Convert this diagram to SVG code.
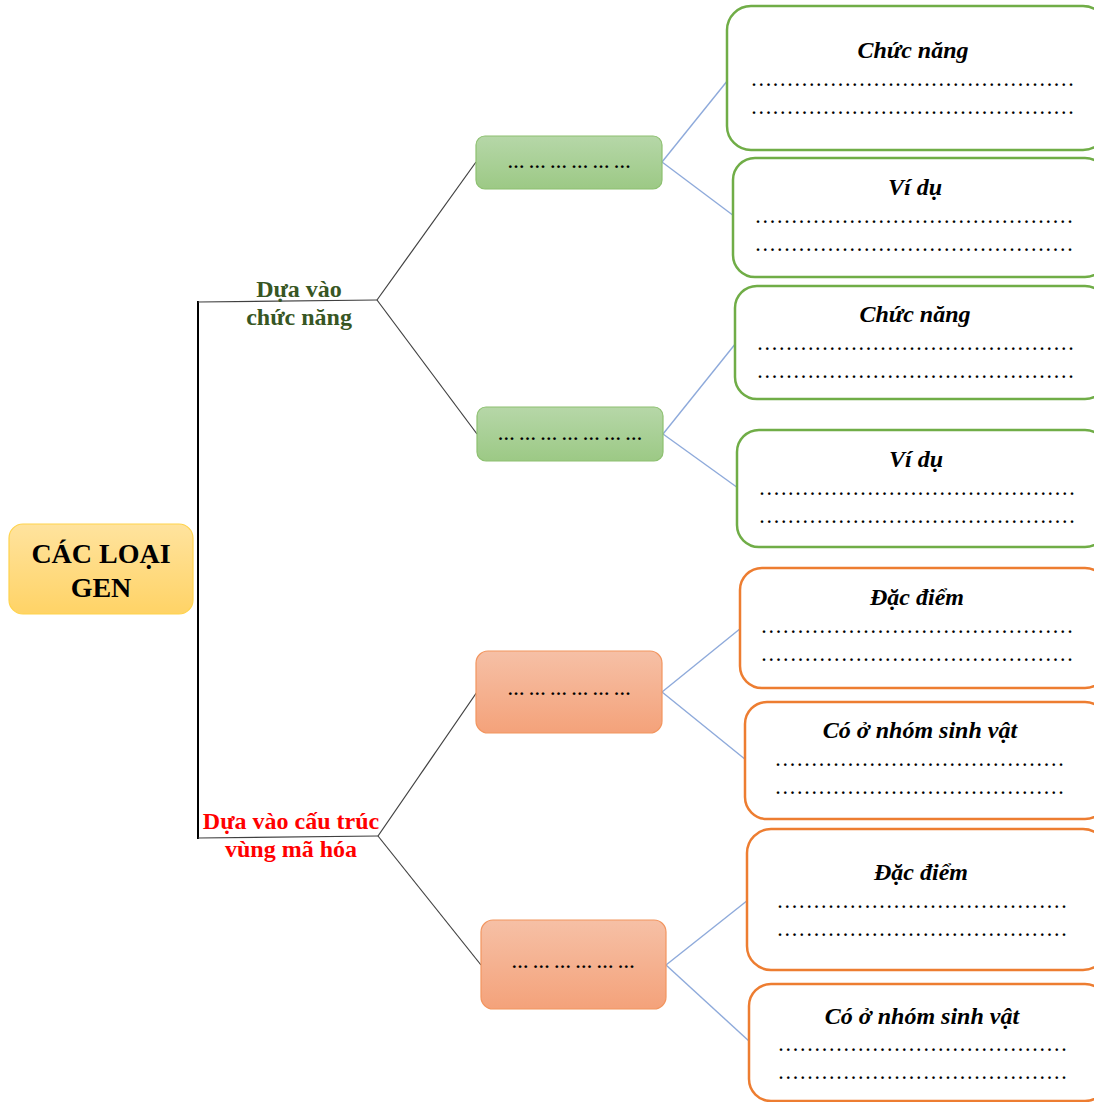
<svg xmlns="http://www.w3.org/2000/svg" width="1094" height="1102" viewBox="0 0 1094 1102">
<defs>
<linearGradient id="gY" x1="0" y1="0" x2="0" y2="1"><stop offset="0" stop-color="#ffe39e"/><stop offset="1" stop-color="#ffd366"/></linearGradient>
<linearGradient id="gG" x1="0" y1="0" x2="0" y2="1"><stop offset="0" stop-color="#b6d7a8"/><stop offset="1" stop-color="#9cc985"/></linearGradient>
<linearGradient id="gO" x1="0" y1="0" x2="0" y2="1"><stop offset="0" stop-color="#f6c0a6"/><stop offset="1" stop-color="#f4a27a"/></linearGradient>
<style>
.serif{font-family:"Liberation Serif","Times New Roman",serif}
.root{font-size:28px;font-weight:bold;fill:#000;text-anchor:middle}
.lblG{font-size:24px;font-weight:bold;fill:#375623;text-anchor:middle}
.lblR{font-size:24px;font-weight:bold;fill:#ff0000;text-anchor:middle}
.mid{font-size:17px;font-weight:bold;fill:#000;text-anchor:middle}
.title{font-size:24px;font-weight:bold;font-style:italic;fill:#000;text-anchor:middle}
.dots{font-size:16px;font-weight:bold;fill:#000}
.gbox{fill:#fff;stroke:#70ad47;stroke-width:2.5}
.obox{fill:#fff;stroke:#ed7d31;stroke-width:2.5}
.gnode{fill:url(#gG);stroke:#8dc070;stroke-width:1.2}
.onode{fill:url(#gO);stroke:#f2955f;stroke-width:1.2}
.blk{stroke:#000;stroke-width:2;fill:none}
.gry{stroke:#404040;stroke-width:1.2;fill:none}
.blu{stroke:#8eaadb;stroke-width:1.4;fill:none}
</style>
</defs>
<g id="connectors">
<line class="blk" x1="198" y1="301" x2="198" y2="839"/>
<line class="gry" x1="198" y1="302" x2="377" y2="300"/>
<line class="gry" x1="377" y1="300" x2="476" y2="162"/>
<line class="gry" x1="377" y1="300" x2="477" y2="434"/>
<line class="gry" x1="198" y1="838" x2="378" y2="836"/>
<line class="gry" x1="378" y1="836" x2="477" y2="692"/>
<line class="gry" x1="378" y1="836" x2="481" y2="965"/>
<line class="blu" x1="662" y1="162" x2="728" y2="80"/>
<line class="blu" x1="662" y1="162" x2="734" y2="216"/>
<line class="blu" x1="663" y1="434" x2="736" y2="343"/>
<line class="blu" x1="663" y1="434" x2="738" y2="488"/>
<line class="blu" x1="662" y1="692" x2="741" y2="628"/>
<line class="blu" x1="662" y1="692" x2="746" y2="760"/>
<line class="blu" x1="666" y1="965" x2="748" y2="900"/>
<line class="blu" x1="666" y1="965" x2="750" y2="1042"/>
</g>
<g id="root">
<rect x="9" y="524" width="184" height="90" rx="14" fill="url(#gY)" stroke="#ffd34d" stroke-width="1.2"/>
<text class="serif root" x="101" y="563">CÁC LOẠI</text>
<text class="serif root" x="101" y="597">GEN</text>
</g>
<g id="label-chuc-nang">
<text class="serif lblG" x="299" y="297">Dựa vào</text>
<text class="serif lblG" x="299" y="325">chức năng</text>
</g>
<g id="label-cau-truc">
<text class="serif lblR" x="291" y="829">Dựa vào cấu trúc</text>
<text class="serif lblR" x="291" y="857">vùng mã hóa</text>
</g>
<g id="n1"><rect class="gnode" x="476" y="136" width="186" height="53" rx="9"/><text class="serif mid" x="569" y="168">… … … … … …</text></g>
<g id="n2"><rect class="gnode" x="477" y="407" width="186" height="54" rx="9"/><text class="serif mid" x="570" y="440">… … … … … … …</text></g>
<g id="n3"><rect class="onode" x="476" y="651" width="186" height="82" rx="12"/><text class="serif mid" x="569" y="695">… … … … … …</text></g>
<g id="n4"><rect class="onode" x="481" y="920" width="185" height="89" rx="12"/><text class="serif mid" x="573" y="968">… … … … … …</text></g>
<g id="b1"><rect class="gbox" x="727" y="6" width="380" height="144" rx="24"/>
<text class="serif title" x="913" y="58">Chức năng</text>
<text class="serif dots" x="752" y="86" textLength="321" lengthAdjust="spacing">.............................................</text>
<text class="serif dots" x="752" y="114" textLength="321" lengthAdjust="spacing">.............................................</text></g>
<g id="b2"><rect class="gbox" x="733" y="158" width="374" height="119" rx="22"/>
<text class="serif title" x="915" y="195">Ví dụ</text>
<text class="serif dots" x="756" y="223" textLength="316" lengthAdjust="spacing">............................................</text>
<text class="serif dots" x="756" y="251" textLength="316" lengthAdjust="spacing">............................................</text></g>
<g id="b3"><rect class="gbox" x="735" y="286" width="372" height="113" rx="22"/>
<text class="serif title" x="915" y="322">Chức năng</text>
<text class="serif dots" x="758" y="350" textLength="315" lengthAdjust="spacing">............................................</text>
<text class="serif dots" x="758" y="378" textLength="315" lengthAdjust="spacing">............................................</text></g>
<g id="b4"><rect class="gbox" x="737" y="430" width="370" height="117" rx="22"/>
<text class="serif title" x="916" y="467">Ví dụ</text>
<text class="serif dots" x="760" y="495" textLength="314" lengthAdjust="spacing">............................................</text>
<text class="serif dots" x="760" y="523" textLength="314" lengthAdjust="spacing">............................................</text></g>
<g id="b5"><rect class="obox" x="740" y="568" width="367" height="120" rx="22"/>
<text class="serif title" x="917" y="605">Đặc điểm</text>
<text class="serif dots" x="762" y="633" textLength="310" lengthAdjust="spacing">...........................................</text>
<text class="serif dots" x="762" y="661" textLength="310" lengthAdjust="spacing">...........................................</text></g>
<g id="b6"><rect class="obox" x="745" y="702" width="362" height="117" rx="22"/>
<text class="serif title" x="920" y="738">Có ở nhóm sinh vật</text>
<text class="serif dots" x="776" y="766" textLength="287" lengthAdjust="spacing">........................................</text>
<text class="serif dots" x="776" y="794" textLength="287" lengthAdjust="spacing">........................................</text></g>
<g id="b7"><rect class="obox" x="747" y="829" width="360" height="141" rx="24"/>
<text class="serif title" x="921" y="880">Đặc điểm</text>
<text class="serif dots" x="778" y="908" textLength="288" lengthAdjust="spacing">........................................</text>
<text class="serif dots" x="778" y="936" textLength="288" lengthAdjust="spacing">........................................</text></g>
<g id="b8"><rect class="obox" x="749" y="984" width="358" height="117" rx="22"/>
<text class="serif title" x="922" y="1024">Có ở nhóm sinh vật</text>
<text class="serif dots" x="779" y="1051" textLength="287" lengthAdjust="spacing">........................................</text>
<text class="serif dots" x="779" y="1079" textLength="287" lengthAdjust="spacing">........................................</text></g>
</svg>
